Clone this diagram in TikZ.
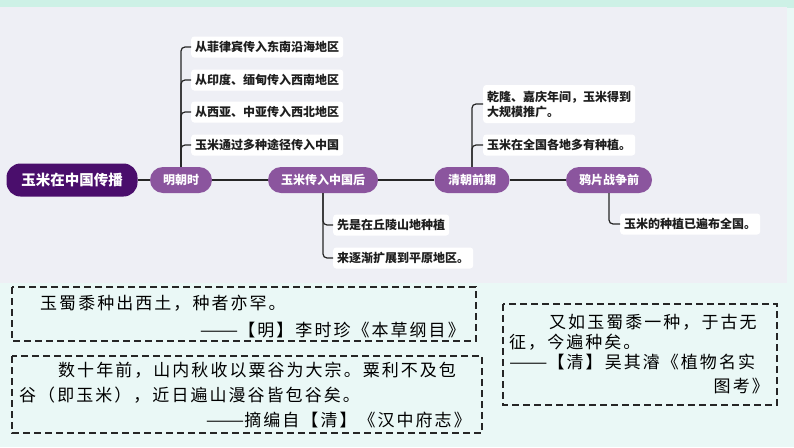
\documentclass[tikz,border=0pt]{standalone}
\usepackage{fontspec}
\usepackage{graphicx}
\setmainfont{Noto Sans CJK SC}
\newfontfamily\quotefont{Noto Sans CJK SC}[LetterSpace=12]
\definecolor{pagebg}{HTML}{EAF8F6}
\definecolor{topstrip}{HTML}{CDF1E6}
\definecolor{panelbg}{HTML}{EEEFF5}
\definecolor{rootc}{HTML}{4A0E6C}
\definecolor{stagec}{HTML}{8B559E}
\definecolor{leaftext}{HTML}{1E1E1E}
\newcommand{\qdash}{\scalebox{1.35}[1]{——}}
\tikzset{
  rootnode/.style={fill=rootc, text=white, rounded corners=14pt, minimum height=33pt, minimum width=131pt, inner sep=0pt, font=\fontsize{14.5}{16}\selectfont\bfseries},
  stagenode/.style={fill=stagec, text=white, rounded corners=13pt, minimum height=26pt, inner sep=0pt, font=\fontsize{12}{14}\selectfont\bfseries},
  leaf/.style={fill=white, rounded corners=3pt, anchor=west, text=leaftext, minimum height=21pt, inner xsep=4pt, inner ysep=2pt, font=\fontsize{12}{15}\selectfont\bfseries, align=left},
  conn/.style={draw=black!85, line width=1.2pt, rounded corners=4pt},
  mainline/.style={draw=black!85, line width=1.4pt},
  quotebox/.style={draw=black!85, line width=1.2pt, dash pattern=on 7pt off 4pt},
  qline/.style={inner sep=0pt, text=black, font=\quotefont\fontsize{17}{20}\selectfont}
}
\begin{document}
\begin{tikzpicture}[x=1pt, y=-1pt]
\useasboundingbox (0,0) rectangle (794,447);
% backgrounds
\fill[pagebg] (0,0) rectangle (794,447);
\fill[topstrip] (0,0) rectangle (794,8);
\fill[panelbg] (0,7) rectangle (787,283);
% main nodes
\node[rootnode] (root) at (72,180) {玉米在中国传播};
\node[stagenode, minimum width=62pt] (ming) at (181,180) {明朝时};
\node[stagenode, minimum width=110pt] (after) at (323,180) {玉米传入中国后};
\node[stagenode, minimum width=75pt] (qing) at (472,180) {清朝前期};
\node[stagenode, minimum width=86pt] (opium) at (609,180) {鸦片战争前};
% leaves of Ming
\node[leaf] (m1) at (191,47) {从菲律宾传入东南沿海地区};
\node[leaf] (m2) at (191,80) {从印度、缅甸传入西南地区};
\node[leaf] (m3) at (191,112) {从西亚、中亚传入西北地区};
\node[leaf] (m4) at (191,145) {玉米通过多种途径传入中国};
% leaves of after
\node[leaf] (a1) at (333,225) {先是在丘陵山地种植};
\node[leaf] (a2) at (333,258) {来逐渐扩展到平原地区。};
% leaves of Qing
\node[leaf, minimum width=152pt, minimum height=38pt] (q1) at (483,104) {乾隆、嘉庆年间，玉米得到\\大规模推广。};
\node[leaf, minimum width=152pt] (q2) at (483,145) {玉米在全国各地多有种植。};
% leaf of opium
\node[leaf] (o1) at (620,224) {玉米的种植已遍布全国。};
% connectors
\draw[mainline] (root.east) -- (ming.west);
\draw[mainline] (ming.east) -- (after.west);
\draw[mainline] (after.east) -- (qing.west);
\draw[mainline] (qing.east) -- (opium.west);
\foreach \l in {m1,m2,m3,m4} \draw[conn] (ming.north) |- (\l.west);
\foreach \l in {a1,a2} \draw[conn] (after.south) |- (\l.west);
\foreach \l in {q1,q2} \draw[conn] (qing.north) |- (\l.west);
\draw[conn] (opium.south) |- (o1.west);
% quote boxes
\draw[quotebox] (12,287) rectangle (476,341);
\node[qline, anchor=west] (b1l1) at (40,303) {玉蜀黍种出西土，种者亦罕。};
\node[qline, anchor=east] (b1l2) at (465,330) {\qdash【明】李时珍《本草纲目》};
\draw[quotebox] (12,356) rectangle (482,433);
\node[qline, anchor=west] (b2l1) at (58,370) {数十年前，山内秋收以粟谷为大宗。粟利不及包};
\node[qline, anchor=west] (b2l2) at (19,395) {谷（即玉米），近日遍山漫谷皆包谷矣。};
\node[qline, anchor=east] (b2l3) at (471,420) {\qdash 摘编自【清】《汉中府志》};
\draw[quotebox] (503,304) rectangle (777,405);
\node[qline, anchor=west] (b3l1) at (549,322) {又如玉蜀黍一种，于古无};
\node[qline, anchor=west] (b3l2) at (509,342) {征，今遍种矣。};
\node[qline, anchor=west] (b3l3) at (509,362) {\qdash【清】吴其濬《植物名实};
\node[qline, anchor=east] (b3l4) at (769,386) {图考》};
\end{tikzpicture}
\end{document}
